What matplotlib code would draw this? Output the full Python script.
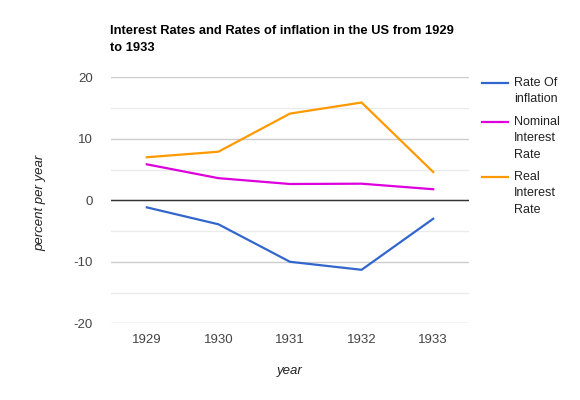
import matplotlib.pyplot as plt
from matplotlib.lines import Line2D

plt.rcParams['font.family'] = ['Liberation Sans', 'DejaVu Sans']
plt.rcParams['axes.unicode_minus'] = False

years = ['1929', '1930', '1931', '1932', '1933']
inflation = [-1.15, -3.9, -10.0, -11.3, -3.0]
nominal = [5.85, 3.6, 2.65, 2.7, 1.8]
real = [7.0, 7.9, 14.1, 15.9, 4.6]

series_names = [['Rate Of', 'inflation'], ['Nominal', 'Interest', 'Rate'], ['Real', 'Interest', 'Rate']]
series_colors = ['#3366cc', '#dd00dd', '#ff9900']

W, H = 580, 400
fig = plt.figure(figsize=(W / 100, H / 100), dpi=100)
ax = fig.add_axes([111 / W, 1 - 323.3 / H, 358 / W, 246 / H])

x = range(len(years))
for vals, col in zip([inflation, nominal, real], series_colors):
    ax.plot(x, vals, color=col, lw=1.6, zorder=3)

ax.set_xlim(-0.5, len(years) - 0.5)
ax.set_ylim(-20, 20)
ax.set_xticks(list(x))
ax.set_xticklabels(years)
ax.set_yticks([-20, -10, 0, 10, 20])
ax.set_yticks([-15, -5, 5, 15], minor=True)
ax.grid(axis='y', which='major', color='#cccccc', lw=1)
ax.grid(axis='y', which='minor', color='#ebebeb', lw=1)
ax.axhline(0, color='#333333', lw=1, zorder=2)
ax.tick_params(axis='both', which='both', length=0, labelsize=9.5, labelcolor='#444444')
ax.tick_params(axis='x', pad=8)
ax.tick_params(axis='y', pad=13)
for s in ax.spines.values():
    s.set_visible(False)

fig.text(290 / W, 1 - 371 / H, 'year', ha='center', va='center',
         fontsize=9.5, style='italic', color='#222222')
fig.text(40 / W, 1 - 203 / H, 'percent per year', ha='center', va='center',
         rotation=90, fontsize=9.5, style='italic', color='#222222')

title_lines = ['Interest Rates and Rates of inflation in the US from 1929', 'to 1933']
for i, t in enumerate(title_lines):
    fig.text(110 / W, 1 - (31 + 17.3 * i) / H, t, ha='left', va='center',
             fontsize=9.3, fontweight='bold', color='#000000')

# legend
legend_y = [83, 122, 177]
for name, col, ly in zip(series_names, series_colors, legend_y):
    fig.add_artist(Line2D([482 / W, 508 / W], [1 - ly / H, 1 - ly / H], color=col, lw=1.6))
    for j, part in enumerate(name):
        fig.text(514 / W, 1 - (ly + 16.3 * j) / H, part, ha='left', va='center',
                 fontsize=9, color='#222222')

fig.savefig('out.png', dpi=100)
